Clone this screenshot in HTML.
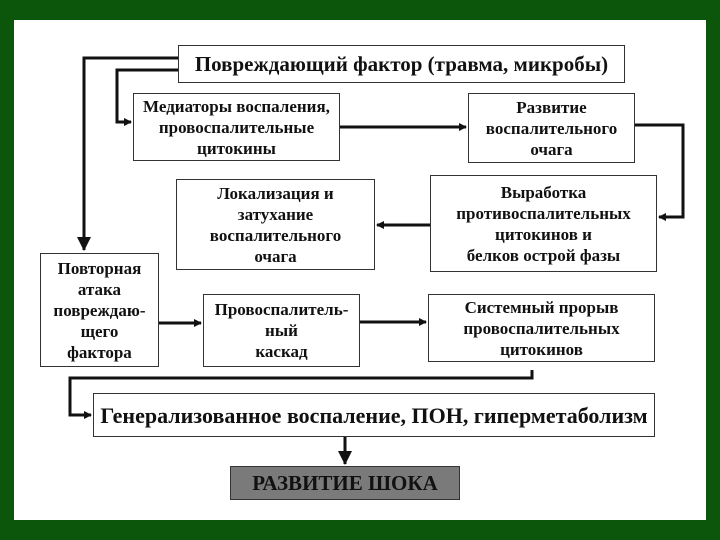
<!DOCTYPE html><html><head><meta charset="utf-8"><style>
body{margin:0;width:720px;height:540px;background:#0b560b;position:relative;overflow:hidden;font-family:"Liberation Serif",serif;}
#w{position:absolute;left:14px;top:20px;width:692px;height:500px;background:#fff;}
.b{position:absolute;border:1.5px solid #333;box-sizing:border-box;background:#fff;display:flex;align-items:center;justify-content:center;text-align:center;font-weight:bold;color:#111;font-size:17px;line-height:21px;white-space:nowrap;}
svg{position:absolute;left:0;top:0}
</style></head><body>
<div id="w"></div>
<svg width="720" height="540"><defs><marker id="a" markerWidth="8" markerHeight="8" refX="7" refY="4" orient="auto" markerUnits="userSpaceOnUse"><path d="M0,0L8,4L0,8z" fill="#111"/></marker><marker id="b" markerWidth="14" markerHeight="14" refX="13" refY="7" orient="auto" markerUnits="userSpaceOnUse"><path d="M0,0L14,7L0,14z" fill="#111"/></marker></defs>
<g stroke="#111" stroke-width="3" fill="none">
<path d="M178,58H84V250" marker-end="url(#b)"/>
<path d="M178,70H117V122H131" marker-end="url(#a)"/>
<path d="M340,127H466" marker-end="url(#a)"/>
<path d="M635,125H683V217H659" marker-end="url(#a)"/>
<path d="M430,225H377" marker-end="url(#a)"/>
<path d="M159,323H201" marker-end="url(#a)"/>
<path d="M360,322H426" marker-end="url(#a)"/>
<path d="M532,370V378H70V415H91" marker-end="url(#a)"/>
<path d="M345,437V464" marker-end="url(#b)"/>
</g></svg>
<div class="b" style="left:178px;top:45px;width:447px;height:38px;font-size:21px">Повреждающий фактор (травма, микробы)</div>
<div class="b" style="left:133px;top:93px;width:207px;height:68px">Медиаторы воспаления,<br>провоспалительные<br>цитокины</div>
<div class="b" style="left:468px;top:93px;width:167px;height:70px">Развитие<br>воспалительного<br>очага</div>
<div class="b" style="left:176px;top:179px;width:199px;height:91px">Локализация и<br>затухание<br>воспалительного<br>очага</div>
<div class="b" style="left:430px;top:175px;width:227px;height:97px">Выработка<br>противоспалительных<br>цитокинов и<br>белков острой фазы</div>
<div class="b" style="left:40px;top:253px;width:119px;height:114px">Повторная<br>атака<br>повреждаю-<br>щего<br>фактора</div>
<div class="b" style="left:203px;top:294px;width:157px;height:73px">Провоспалитель-<br>ный<br>каскад</div>
<div class="b" style="left:428px;top:294px;width:227px;height:68px">Системный прорыв<br>провоспалительных<br>цитокинов</div>
<div class="b" style="left:93px;top:393px;width:562px;height:44px;font-size:22px">Генерализованное воспаление, ПОН, гиперметаболизм</div>
<div class="b" style="left:230px;top:466px;width:230px;height:34px;background:#7a7a7a;font-size:21px">РАЗВИТИЕ ШОКА</div>
</body></html>
